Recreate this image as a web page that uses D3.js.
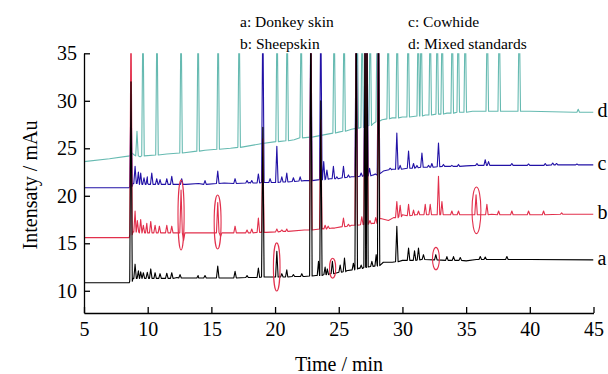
<!DOCTYPE html>
<html>
<head>
<meta charset="utf-8">
<script src="https://cdn.jsdelivr.net/npm/d3@7"></script>
<style>
  body { margin: 0; background: #fff; }
  svg { display: block; }
  svg text { font-family: "Liberation Serif", "Times New Roman", serif; }
</style>
</head>
<body>
<svg id="chart" width="608" height="374"></svg>
<script>
// ---- data: time (min), intensity (mAu) ----
// baselines: [t, value]; peaks: [t, top, foot]  (top 40 = off scale)

const baseD = [[5,23.6],[7,23.9],[8.6,24.2],[8.75,24.5],[8.95,24.3],[9.4,24.1],[11.5,24.4],[14.5,24.8],[16.5,25.0],
  [19,25.5],[21.5,25.9],[23,26.2],[25,26.7],[26,27.0],[27.1,27.3],[27.7,27.6],[28.4,28.0],[29.2,28.2],[30,28.3],
  [31.8,28.5],[33.5,28.7],[34.65,28.8],[35.5,28.9],[38,28.9],[40,28.9],[43.5,28.8],[44,28.8],[45,28.8]];
const peaksD = [[9.16,26.8,24.2],[9.63,40,24.2],[10.73,40,24.3],[12.62,40,24.5],[13.96,40,24.7],[15.53,40,24.9],
  [17.18,40,25.1],[20.16,40,25.7],[20.95,40,25.8],[22.05,40,26.1],[24.64,40,26.6],[25.42,40,26.8],[26.45,40,27.1],
  [26.84,40,27.2],[27.47,40,27.4],[28.02,40,27.8],[28.88,40,28.1],[29.59,40,28.2],[30.45,40,28.3],[31.24,40,28.4],
  [31.47,40,28.4],[32.18,40,28.5],[32.73,40,28.6],[33.12,40,28.6],[33.91,40,28.7],[34.38,40,28.8],[34.93,40,28.8],
  [36.66,40,28.9],[37.6,40,28.9],[39.17,40,28.9],[43.8,29.1,28.8]];

const baseC = [[5,20.85],[8.55,20.85],[8.85,21.3],[10,21.3],[12.2,21.2],[13,21.2],[14,21.3],[16,21.35],[18,21.4],
  [19.3,21.4],[21,21.5],[22.3,21.6],[24.3,21.8],[26,22.0],[27.7,22.2],[28.5,22.6],[29.2,22.8],[31,23.0],[33.6,23.1],
  [35,23.15],[38,23.2],[41,23.2],[43,23.25],[45,23.25]];
const peaksC = [[8.69,31,21.0],[9.01,23.1,21.3],[9.27,22.5,21.3],[9.45,22.4,21.2],[9.71,21.9,21.2],[9.97,22.0,21.2],
  [10.32,22.4,21.2],[10.71,21.8,21.2],[10.97,21.7,21.2],[11.5,21.8,21.2],[11.89,22.05,21.2],[12.67,21.8,21.2],
  [14.5,21.6,21.2],[15.5,22.6,21.3],[16.86,21.8,21.3],[17.8,21.6,21.35],[18.17,21.6,21.35],[18.69,22.3,21.35],
  [19.04,40,21.4],[19.61,21.8,21.4],[20.14,25.2,21.4],[20.53,22.0,21.45],[20.92,22.4,21.45],[21.44,21.9,21.5],
  [21.97,22.0,21.55],[22.81,40,21.6],[23.59,40,21.7],[23.82,23.6,21.7],[24.07,22.7,21.75],[24.58,23.1,21.8],
  [24.85,22.0,21.8],[25.37,23.1,21.9],[25.76,22.2,21.95],[26.37,40,22.0],[26.76,22.4,22.05],[27.07,40,22.1],
  [27.21,40,22.1],[27.42,22.9,22.1],[27.86,22.3,22.2],[28.12,40,22.3],[29.04,22.9,22.75],[29.56,26.6,22.8],
  [29.82,23.2,22.8],[30.48,24.7,22.9],[30.87,23.4,22.9],[31.14,23.2,22.95],[31.53,24.5,23.0],[32.05,23.2,23.0],
  [32.31,23.4,23.0],[32.83,25.55,23.05],[33.22,23.3,23.1],[33.88,23.2,23.1],[34.4,23.3,23.1],[35.85,23.4,23.2],
  [36.5,23.8,23.2],[36.76,23.6,23.2],[38.59,23.4,23.2],[39.9,23.35,23.2],[41.21,23.4,23.2],[41.8,23.45,23.25],
  [42.1,23.4,23.25],[43.7,23.35,23.25]];

const baseB = [[5,15.6],[8.55,15.6],[8.85,16.2],[10,16.1],[12.3,16.1],[13,16.1],[15,16.1],[17,16.1],[19.3,16.15],
  [21,16.25],[22.3,16.4],[23.75,16.55],[26,16.9],[27.65,17.1],[28.3,17.6],[28.9,17.4],[29.3,17.7],[30,18.0],
  [31,18.0],[33.5,18.0],[35,18.0],[37,18.05],[40,18.05],[45,18.05]];
const peaksB = [[8.69,40,15.9],[9.01,18.4,16.2],[9.19,17.4,16.2],[9.45,17.5,16.1],[9.66,16.9,16.1],[9.93,17.1,16.1],
  [10.24,17.3,16.1],[10.58,16.9,16.1],[10.92,16.8,16.1],[11.5,16.9,16.1],[11.89,16.8,16.1],[12.62,20.6,16.1],
  [12.82,15.3,16.1],[15.5,19.3,16.1],[15.72,15.7,16.1],[16.86,16.8,16.1],[17.8,16.4,16.1],[18.17,16.5,16.1],
  [18.69,17.65,16.15],[19.04,26,16.15],[20.14,16.5,16.2],[20.53,16.4,16.25],[20.92,16.5,16.25],[22.81,40,16.4],
  [23.59,28,16.5],[23.93,16.9,16.5],[24.17,16.8,16.55],[24.58,16.6,16.6],[25.37,17.65,16.75],[25.76,17.0,16.8],
  [26.37,40,16.9],[26.81,17.8,16.95],[27.07,40,17.0],[27.21,40,17.0],[27.45,17.4,17.05],[27.9,17.7,17.1],
  [28.12,40,17.6],[29.56,19.4,17.7],[29.82,19.0,17.8],[30.48,19.1,17.9],[30.87,18.5,17.95],[31.26,18.4,18.0],
  [31.79,19.1,18.0],[32.18,19.1,18.0],[32.83,22.05,18.0],[33.1,19.4,18.0],[33.88,18.4,18.0],[34.4,18.4,18.0],
  [35.78,20.1,18.0],[36.63,19.1,18.0],[37.55,18.4,18.0],[38.59,18.4,18.0],[39.9,18.4,18.0],[41.08,18.4,18.0],
  [42.5,18.2,18.05]];

const baseA = [[5,10.85],[8.55,10.85],[8.85,11.3],[10.5,11.35],[12.3,11.4],[13,11.35],[14,11.35],[16,11.35],[18,11.4],
  [19.3,11.45],[21,11.45],[22.3,11.5],[23.2,11.6],[24.3,11.8],[25.6,12.1],[26.6,12.4],[27.75,12.6],[28.5,13.0],
  [29.2,13.0],[30,13.2],[31.5,13.3],[33.75,13.2],[35,13.15],[35.8,13.3],[38,13.3],[40,13.3],[45,13.25]];
const peaksA = [[8.69,32,11.0],[9.01,12.8,11.3],[9.27,12.1,11.3],[9.45,12.0,11.3],[9.66,11.9,11.3],[9.97,11.95,11.3],
  [10.24,12.3,11.3],[10.58,11.9,11.3],[10.97,11.8,11.3],[11.5,11.85,11.3],[11.89,11.9,11.3],[12.54,11.7,11.35],
  [13.96,11.6,11.35],[14.5,11.6,11.35],[15.5,12.6,11.35],[16.86,12.05,11.35],[17.8,11.6,11.4],[18.69,12.4,11.4],
  [19.04,27.2,11.45],[20.14,14.15,11.45],[20.53,11.8,11.45],[20.92,12.2,11.45],[21.44,11.7,11.5],[22.1,11.8,11.5],
  [22.81,40,11.55],[23.41,13.1,11.6],[23.59,30,11.6],[23.93,12.5,11.7],[24.1,12.3,11.7],[24.5,13.1,11.8],
  [25.11,12.7,11.95],[25.45,13.45,12.0],[26.15,12.9,12.2],[26.37,40,12.3],[26.76,12.7,12.35],[27.07,40,12.45],
  [27.21,40,12.5],[27.6,13.1,12.55],[27.94,13.8,12.6],[28.12,40,12.65],[29.56,16.8,13.05],[30.48,14.5,13.2],
  [30.95,14.2,13.2],[31.26,14.5,13.25],[31.65,13.8,13.3],[32.62,13.8,13.25],[33.49,13.6,13.2],[34.01,13.6,13.2],
  [34.54,13.5,13.2],[36.11,13.6,13.3],[36.5,13.55,13.3],[38.2,13.6,13.3]];

// red rings around marker peaks: [t, value, half-width (min), half-height (mAu)]
const rings = [[20.13,12.51,0.26,2.53],[24.52,12.38,0.24,1.05],[32.63,13.39,0.27,1.18],
  [12.62,17.97,0.24,3.68],[15.49,17.24,0.27,2.84],[35.81,18.47,0.35,2.45]];

const series = [
  { key: "d", base: baseD, peaks: peaksD, color: "#66bab1" },
  { key: "c", base: baseC, peaks: peaksC, color: "#2212a6" },
  { key: "b", base: baseB, peaks: peaksB, color: "#e2304c" },
  { key: "a", base: baseA, peaks: peaksA, color: "#000000" }
];
const legend = ["a: Donkey skin", "b: Sheepskin", "c: Cowhide", "d: Mixed standards"];
const xTicks = [5, 10, 15, 20, 25, 30, 35, 40, 45];
const yTicks = [10, 15, 20, 25, 30, 35];

// ---- layout ----
const svg = d3.select("#chart");
const x = d3.scaleLinear().domain([5, 45]).range([84, 593.5]);
const y = d3.scaleLinear().domain([7.66, 35]).range([313, 53.3]);
const HW = 0.1;  // peak half-width in minutes

function trace(base, peaks) {
  const pts = base.map(d => [d[0], d[1]]);
  peaks.forEach(p => pts.push([p[0] - HW, p[2]], [p[0], p[1]], [p[0] + HW, p[2]]));
  pts.sort((a, b) => a[0] - b[0]);
  return pts;
}

svg.append("clipPath").attr("id", "plot")
  .append("rect")
    .attr("x", x(5)).attr("y", y(35))
    .attr("width", x(45) - x(5)).attr("height", y(7.66) - y(35));

const line = d3.line().x(d => x(d[0])).y(d => y(d[1]));

const g = svg.append("g").attr("clip-path", "url(#plot)");
series.forEach(s => {
  g.append("path")
    .datum(trace(s.base, s.peaks))
    .attr("fill", "none")
    .attr("stroke", s.color)
    .attr("stroke-width", 1.1)
    .attr("stroke-linejoin", "round")
    .attr("d", line);
});

svg.append("g").selectAll("ellipse")
  .data(rings)
  .join("ellipse")
    .attr("cx", d => x(d[0]))
    .attr("cy", d => y(d[1]))
    .attr("rx", d => x(d[0] + d[2]) - x(d[0]))
    .attr("ry", d => y(d[1] - d[3]) - y(d[1]))
    .attr("fill", "none")
    .attr("stroke", "#e2304c")
    .attr("stroke-width", 1.1);

// series letters at the right end
svg.append("g").selectAll("text")
  .data(series)
  .join("text")
    .attr("x", x(45) + 4)
    .attr("y", s => y(s.base[s.base.length - 1][1]))
    .attr("dy", "0.24em")
    .style("font-size", "20px")
    .text(s => s.key);

// axes
const xAxis = svg.append("g")
  .attr("transform", `translate(0,${y(7.66)})`)
  .call(d3.axisBottom(x).tickValues(xTicks).tickSizeInner(-6).tickSizeOuter(0).tickPadding(9));
const yAxis = svg.append("g")
  .attr("transform", `translate(${x(5)},0)`)
  .call(d3.axisLeft(y).tickValues(yTicks).tickSizeInner(-6).tickSizeOuter(0).tickPadding(7));

[xAxis, yAxis].forEach(a => {
  a.attr("font-family", null);
  a.selectAll("path, line").attr("stroke", "#000").attr("stroke-width", 1.3);
  a.selectAll("text").attr("fill", "#000").style("font-size", "20px");
});

svg.append("text")
  .attr("x", 339).attr("y", 371)
  .attr("text-anchor", "middle")
  .style("font-size", "20px")
  .text("Time / min");

svg.append("text")
  .attr("transform", "translate(37,185) rotate(-90)")
  .attr("text-anchor", "middle")
  .style("font-size", "20px")
  .text("Intensaty / mAu");

// legend, two columns
svg.append("g").selectAll("text")
  .data(legend)
  .join("text")
    .attr("x", (d, i) => i < 2 ? 240 : 408)
    .attr("y", (d, i) => i % 2 === 0 ? 27 : 49)
    .style("font-size", "15.5px")
    .text(d => d);
</script>
</body>
</html>
